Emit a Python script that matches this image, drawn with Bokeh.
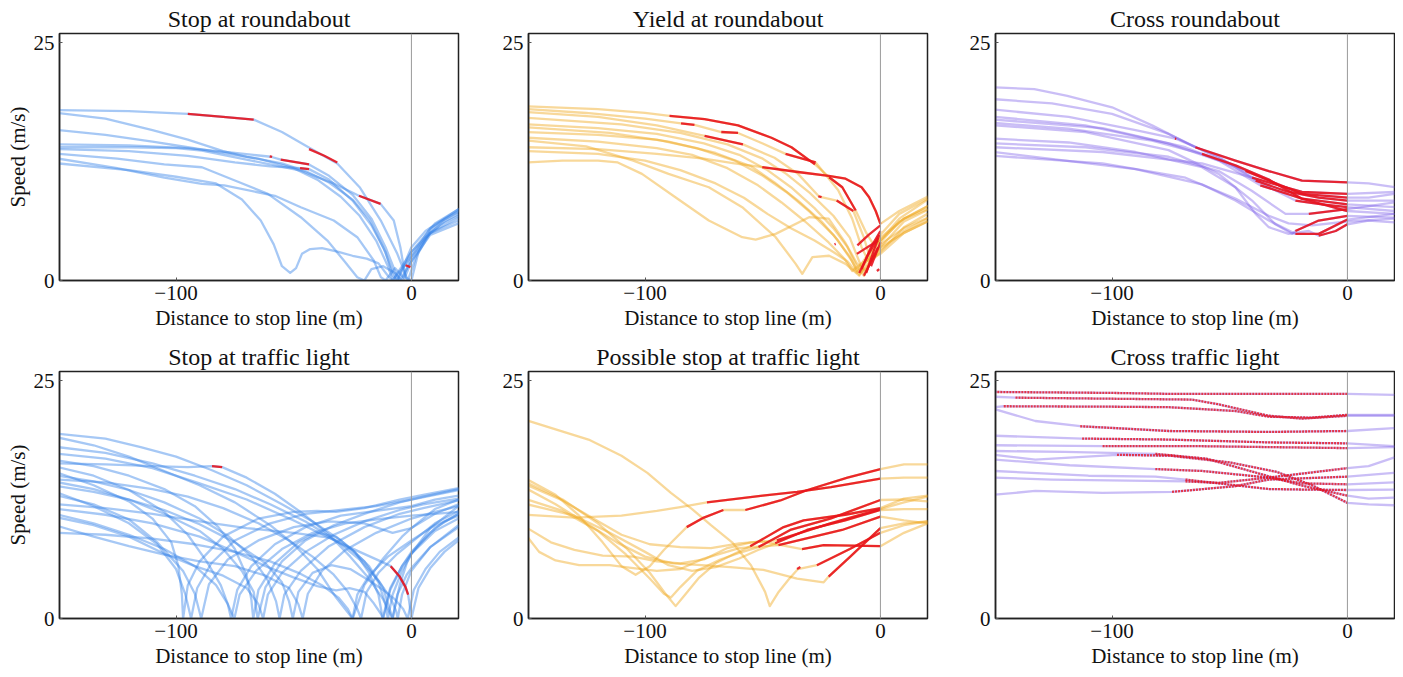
from bokeh.plotting import figure
from bokeh.layouts import column, row
from bokeh.models import FixedTicker, Span, Range1d
from bokeh.embed import file_html
from bokeh.resources import INLINE

FONT = "Liberation Serif"
BLUE = "#3a86e8"
YELLOW = "#f0a820"
PURPLE = "#7a5ce8"
RED = "#e8141e"

TITLES = ["Stop at roundabout", "Yield at roundabout", "Cross roundabout",
          "Stop at traffic light", "Possible stop at traffic light", "Cross traffic light"]
X_LABEL = "Distance to stop line (m)"
Y_LABEL = "Speed (m/s)"
X_TICKS = [-100, 0]
Y_TICKS = [0, 25]
X_TICK_TEXT = {-100: "\u2212100", 0: "0"}
Y_TICK_TEXT = {0: "0", 25: "25"}

# ---------------- Stop at roundabout ----------------
STOP_RB = [
    [(-150,17.9),(-120,17.8),(-95,17.5),(-80,17.2),(-67,16.9),(-55,15.6),(-43,13.9),(-31.5,12.3),(-22,9.8),(-13,6.3),(-6,2.8),(-1.5,0),(2,2.5),(8,5.0),(14,6.2),(20,7.0)],
    [(-150,17.6),(-130,17.0),(-110,15.8),(-95,14.8),(-80,13.6),(-70,13.0),(-55,12.3),(-45,11.5),(-35,10.3),(-25,8.5),(-18,6.5),(-12,3.5),(-8,1.0),(-6,0),(0,3.0),(10,6.0),(20,7.5)],
    [(-150,15.8),(-130,15.3),(-110,14.6),(-95,14.0),(-80,13.4),(-65,12.8),(-50,11.8),(-40,10.6),(-30,8.8),(-22,6.8),(-15,4.2),(-10,1.5),(-8,0),(0,2.5),(8,5.0),(20,6.6)],
    [(-150,14.3),(-120,14.2),(-95,13.9),(-75,13.4),(-59.7,13.0),(-55.5,12.7),(-43.5,12.2),(-35,11.0),(-25,9.0),(-17,6.5),(-11,3.5),(-7,1.0),(-5,0),(0,2.0),(6,4.5),(12,5.8),(20,6.8)],
    [(-150,14.0),(-120,14.0),(-100,13.9),(-89,13.65),(-68,12.6),(-47,11.55),(-33,10.2),(-22.3,8.9),(-13.1,8.05),(-7.5,6.3),(-4.7,3.5),(-2.5,0.3),(0,0),(3,3.0),(8,5.2),(14,6.5),(20,7.5)],
    [(-150,13.8),(-120,13.6),(-95,13.1),(-75,12.4),(-60,12.0),(-47.3,11.8),(-43.5,11.7),(-35,10.6),(-25,8.4),(-17,5.8),(-11,3.0),(-8,0.5),(-6,0),(0,3.5),(6,5.2),(12,6.2),(20,7.2)],
    [(-150,13.3),(-125,12.8),(-105,12.2),(-89,11.9),(-75,10.5),(-61,9.1),(-47,6.65),(-35.7,4.2),(-28.7,2.1),(-23,0.35),(-20,0),(-17,1.2),(-12,1.5),(-7,0.8),(-4,0),(0,2.5),(8,5.5),(20,7.3)],
    [(-150,12.8),(-125,11.8),(-105,10.8),(-89,10.15),(-79.5,10.0),(-58,8.9),(-47,7.7),(-33,6.3),(-23,4.55),(-16,2.1),(-13,0.35),(-11,0),(-7,1.3),(-3,0.2),(0,2.0),(8,4.8),(20,6.0)],
    [(-150,12.3),(-120,11.6),(-100,10.9),(-83,10.2),(-72,8.5),(-64,6.3),(-58.5,3.8),(-55,1.5),(-51.5,0.8),(-49,1.3),(-46.5,2.8),(-43,3.3),(-38,3.4),(-31,3.0),(-25,2.6),(-19,2.3),(-14,1.8),(-10,0.5),(-8,0),(-4,1.5),(0,3.0),(8,5.0),(20,6.3)],
]
STOP_RB_RED = [
    [(-95,17.5),(-80,17.2),(-67,16.9)],
    [(-43.5,13.8),(-37,13.1),(-31.5,12.4)],
    [(-60.2,13.05),(-59.2,12.98)],
    [(-55.5,12.7),(-43.5,12.2)],
    [(-47.3,11.8),(-43.5,11.7)],
    [(-22.3,8.9),(-13.1,8.05)],
    [(-2.5,1.6),(-0.4,1.4)],
]

# ---------------- Yield at roundabout ----------------
YIELD_RB = [
    [(-150,18.3),(-120,18.0),(-100,17.6),(-89.6,17.3),(-74.7,16.95),(-60.5,16.3),(-46.3,15.0),(-37.8,14.0),(-27.8,12.2),(-21.8,10.85),(-16.2,9.8),(-10.5,7.35),(-6,5.0),(-3,3.8),(0,4.2),(8,6.5),(20,8.5)],
    [(-150,18.0),(-125,17.6),(-100,17.0),(-84.7,16.5),(-79,16.35),(-67.6,15.6),(-60.5,15.5),(-50,14.4),(-40.3,13.3),(-27.5,12.4),(-18,9.5),(-12,6.5),(-8,3.5),(-5,2.0),(-2,3.5),(0,4.8),(8,7.0),(20,8.6)],
    [(-150,17.7),(-120,17.2),(-95,16.3),(-74.7,15.2),(-58.4,14.3),(-45,12.9),(-35,11.2),(-26,8.8),(-18.6,8.4),(-11.5,7.3),(-7,4.5),(-4,2.0),(-2,2.8),(0,4.0),(8,6.2),(20,7.8)],
    [(-150,17.1),(-110,16.4),(-85,15.5),(-65,14.3),(-50,12.8),(-40,11.2),(-30,9.2),(-20,6.8),(-13,4.5),(-9,2.0),(-7,0.8),(-4,2.2),(0,3.5),(10,6.2),(20,7.4)],
    [(-150,16.4),(-120,16.0),(-95,15.4),(-75,14.4),(-60,13.2),(-48,11.6),(-38,9.8),(-28,7.6),(-20,5.5),(-14,3.5),(-10,1.5),(-7,0.5),(-4,2.0),(0,3.0),(10,5.6),(20,7.0)],
    [(-150,16.1),(-115,15.5),(-90,14.6),(-70,13.4),(-55,12.0),(-45,10.3),(-35,8.4),(-25,6.2),(-18,4.2),(-12,2.0),(-9,0.6),(-5,1.8),(0,3.2),(10,5.2),(20,6.5)],
    [(-150,15.6),(-120,15.3),(-95,14.8),(-78,13.9),(-62,12.6),(-50,11.0),(-40,9.3),(-30,7.2),(-20,4.8),(-13,2.5),(-10,1.0),(-6,2.5),(0,4.2),(10,6.5),(20,7.8)],
    [(-150,15.0),(-120,14.6),(-95,13.9),(-80,13.2),(-65,11.8),(-52,10.0),(-42,8.2),(-32,6.2),(-22,4.0),(-15,2.2),(-12,1.0),(-8,1.8),(-2,2.8),(0,3.5),(10,5.0),(20,6.2)],
    [(-150,14.0),(-120,13.8),(-95,13.3),(-75,12.8),(-62,12.3),(-50.2,11.9),(-35,11.4),(-22,11.0),(-14.8,10.7),(-8,9.8),(-4.8,8.75),(-2,7.3),(0,5.95),(8,7.3),(20,8.8)],
    [(-150,13.6),(-120,13.3),(-100,12.6),(-85,11.6),(-70,10.2),(-58,8.7),(-48,7.0),(-38,5.5),(-28,4.2),(-20,3.0),(-14,2.0),(-10,0.8),(-6,2.0),(0,2.8),(10,5.0),(20,6.2)],
    [(-150,12.4),(-135,12.6),(-120,12.6),(-111.6,12.4),(-101.3,11.2),(-87.1,8.75),(-72.9,6.3),(-58.7,4.55),(-53,4.3),(-44.5,4.9),(-30.3,6.65),(-22,6.5),(-15,4.0),(-10,1.8),(-6,1.0),(-3,2.5),(0,3.8),(10,5.5),(20,6.6)],
    [(-150,14.7),(-125,14.1),(-105,12.6),(-90,11.2),(-72.9,9.8),(-58.7,7.7),(-44.5,4.55),(-36,1.75),(-33.2,0.7),(-28.9,2.45),(-21.8,2.6),(-14.8,1.75),(-9,0.5),(-5,2.5),(0,4.5),(10,6.5),(20,7.5)],
]
YIELD_RB_RED = [
    [(-89.6,17.3),(-74.7,16.95),(-60.5,16.3),(-46.3,15.0),(-37.8,14.0),(-27.8,12.2)],
    [(-21.8,10.85),(-16.2,9.8),(-10.5,7.35)],
    [(-84.7,16.5),(-79,16.35)],
    [(-67.6,15.6),(-60.5,15.5)],
    [(-40.3,13.3),(-27.5,12.4)],
    [(-74.7,15.2),(-58.4,14.3)],
    [(-26.4,8.85),(-25,8.75)],
    [(-18.6,8.4),(-11.5,7.3)],
    [(-50.2,11.9),(-35,11.4),(-22,11.0),(-14.8,10.7),(-8,9.8),(-4.8,8.75),(-2,7.3),(0,5.95)],
    [(-9.8,3.7),(-5,4.8),(0,5.8)],
    [(-9,0.8),(-5,2.8),(-1,4.5)],
    [(-8,1.2),(-4,3.5),(0,5.2)],
    [(-7,0.5),(-4,2.0),(-1,3.5)],
    [(-6,0.8),(-3,3.0),(-0.5,4.8)],
    [(-4,1.5),(0,4.0)],
    [(-10,2.8),(-1,4.2)],
    [(-1.5,1.0),(-0.5,1.2)],
    [(-19.5,3.8),(-19,3.85)],
]

# ---------------- Cross roundabout ----------------
CROSS_RB = [
    [(-150,20.3),(-133,20.1),(-119,19.4),(-100,18.2),(-83,16.3),(-64.6,14.0),(-47.6,12.6),(-33.4,11.5),(-19.3,10.5),(0,10.3),(9,10.2),(20,9.8)],
    [(-150,19.05),(-125.5,18.6),(-100,17.5),(-76,15.4),(-61.8,13.7),(-43.3,11.5),(-33.4,10.5),(-19.3,9.1),(0,8.7),(9,8.7),(20,9.1)],
    [(-150,17.95),(-118.4,17.2),(-90,15.8),(-73,14.9),(-54.7,13.0),(-39,10.5),(-26.3,9.4),(-12.2,8.7),(0,8.4),(20,8.4)],
    [(-150,17.2),(-111.3,16.3),(-76,14.4),(-54.7,12.6),(-37,10.0),(-19.3,8.6),(0,8.0),(20,7.7)],
    [(-150,16.9),(-104,16.0),(-68.8,14.0),(-47.6,11.9),(-33.4,9.8),(-22.1,8.4),(-10.8,8.0),(0,7.7),(20,7.3)],
    [(-150,16.55),(-118.4,15.95),(-83,14.7),(-61.8,13.3),(-47.6,12.1),(-33.4,10.6),(-19.3,8.6),(0,7.3),(20,7.0)],
    [(-150,16.3),(-111.3,15.6),(-76,13.7),(-54.7,11.2),(-40.5,8.4),(-30.6,5.9),(-23.5,4.9),(-22.1,5.2),(-12.2,6.3),(0,6.8),(20,6.6)],
    [(-150,14.9),(-118.4,14.5),(-90,13.5),(-61.8,11.9),(-47.6,9.8),(-39,7.0),(-33.4,5.6),(-25,4.9),(-16.4,5.2),(-12.2,4.7),(-5,5.2),(0,5.9),(9,6.3),(20,6.1)],
    [(-150,14.4),(-111.3,14.0),(-76,13.0),(-54.7,11.5),(-40.5,9.4),(-26.3,7.0),(-16.4,7.0),(0,7.5),(20,8.2)],
    [(-150,14.0),(-104,13.5),(-61.8,12.3),(-40.5,10.8),(-19.3,9.3),(0,9.1),(20,9.3)],
    [(-150,13.5),(-90,11.7),(-61.8,10.1),(-47.6,8.4),(-33.4,6.3),(-22.1,4.9),(-12.2,4.9),(0,6.4),(20,7.0)],
    [(-150,13.1),(-104,12.3),(-68.8,10.8),(-47.6,8.6),(-33.4,6.8),(-25,6.0),(-15,5.8),(0,6.2),(20,6.5)],
]
CROSS_RB_RED = [
    [(-64.6,14.0),(-47.6,12.6),(-33.4,11.5),(-19.3,10.5),(0,10.3)],
    [(-43.3,11.5),(-33.4,10.5),(-19.3,9.1),(0,8.7)],
    [(-39,10.5),(-26.3,9.4),(-12.2,8.7),(0,8.4)],
    [(-73.3,14.9),(-72.7,14.88)],
    [(-37,10.0),(-19.3,8.6),(0,8.0)],
    [(-22.1,8.4),(-10.8,8.0),(0,7.7)],
    [(-61.8,13.3),(-47.6,12.1),(-33.4,10.6),(-19.3,8.6),(0,7.3)],
    [(-22.1,5.2),(-12.2,6.3),(0,6.8)],
    [(-12.2,4.7),(-5,5.2),(0,5.9)],
    [(-16.4,7.0),(0,7.5)],
    [(-40.5,10.8),(-19.3,9.3),(0,9.1)],
    [(-22.1,4.9),(-12.2,4.9),(0,6.4)],
]

# ---------------- Stop at traffic light ----------------
STOP_TL = [
    [(-150,19.4),(-130,18.9),(-115,18.0),(-100,17.0),(-85,15.6),(-70,14.0),(-55,12.0),(-42,10.2),(-30,8.2),(-20,6.0),(-14,3.8),(-11,1.5),(-10,0),(-8,2.5),(-4,5.0),(0,6.8),(8,9.0),(14,10.2),(20,11.0)],
    [(-150,19.0),(-135,18.2),(-120,17.0),(-105,15.5),(-90,14.0),(-75,12.2),(-60,9.8),(-50,7.8),(-40,5.2),(-32,2.2),(-25,0),(-20,3.5),(-12,6.3),(-4,8.6),(0,9.5),(10,11.5),(20,12.5)],
    [(-150,16.3),(-130,16.2),(-110,16.0),(-95,15.9),(-84.7,16.0),(-80.4,15.9),(-70,14.8),(-58,13.1),(-46,11.0),(-35,8.8),(-26,6.5),(-18,4.2),(-12,2.0),(-8,0),(-5,3.5),(-2,5.8),(0,6.8),(8,9.5),(20,11.8)],
    [(-150,17.3),(-130,16.8),(-110,15.8),(-90,14.2),(-70,12.5),(-50,10.3),(-35,8.5),(-22,7.0),(-13,6.0),(-8.8,5.5),(-5,4.4),(-2.5,3.3),(-1.4,2.5),(-0.5,1.0),(0,0),(3,3.2),(8,5.3),(14,7.0),(20,8.2)],
    [(-150,15.3),(-135,14.0),(-120,12.3),(-110,10.5),(-102,8.0),(-99,5.5),(-97.5,2.5),(-97,0),(-95,3.5),(-90,6.0),(-80,8.6),(-65,10.5),(-50,11.2),(-40,11.3),(-32,11.2),(-20,11.6),(-5,12.5),(5,13.0),(20,13.7)],
    [(-150,13.2),(-135,11.8),(-120,10.0),(-108,7.8),(-100,5.2),(-96,2.5),(-93.6,0),(-91,3.2),(-85,5.8),(-75,8.2),(-60,10.0),(-45,11.0),(-30,11.4),(-15,11.8),(0,12.5),(10,13.0),(20,13.5)],
    [(-150,12.9),(-135,12.0),(-120,10.4),(-108,8.0),(-97,5.0),(-92,2.6),(-89.3,0),(-86,3.6),(-78,6.2),(-65,8.2),(-50,9.6),(-35,10.2),(-20,10.0),(-8,9.0),(0,9.5),(10,11.0),(20,12.0)],
    [(-150,15.9),(-135,15.0),(-120,13.5),(-105,11.2),(-95,8.8),(-87,6.0),(-81,3.5),(-78,1.5),(-76.6,0),(-74,3.0),(-68,5.5),(-58,7.8),(-45,9.6),(-30,10.8),(-15,11.3),(0,11.8),(10,12.5),(20,12.9)],
    [(-150,10.9),(-135,10.0),(-120,8.8),(-105,7.3),(-92,5.5),(-83,3.5),(-78,1.5),(-75.2,0),(-73,2.5),(-66,5.0),(-55,7.3),(-42,9.0),(-28,10.0),(-12,10.5),(0,10.8),(10,11.0),(20,11.2)],
    [(-150,16.6),(-135,16.0),(-120,15.0),(-105,13.6),(-92,11.8),(-82,9.6),(-75,7.3),(-70,4.5),(-68,2.0),(-67.2,0),(-65,3.0),(-58,5.8),(-48,8.0),(-40,9.0),(-32,8.6),(-24,7.0),(-18,4.8),(-14,2.5),(-12.2,0),(-9,3.2),(-4,5.5),(0,6.8),(10,9.2),(20,10.5)],
    [(-150,14.3),(-135,13.6),(-120,12.5),(-105,11.0),(-90,9.2),(-80,7.3),(-72,5.0),(-67,2.8),(-65.3,0),(-62,3.3),(-55,6.0),(-45,8.2),(-33,9.8),(-20,11.0),(-5,12.2),(5,12.8),(20,13.6)],
    [(-150,10.6),(-135,9.8),(-120,8.6),(-105,6.8),(-92,5.5),(-80,4.5),(-70,3.2),(-65,1.5),(-63,0),(-61,2.5),(-55,4.8),(-45,7.0),(-33,8.8),(-20,10.2),(-5,11.4),(5,12.0),(20,12.6)],
    [(-150,15.0),(-135,14.4),(-120,13.5),(-105,12.2),(-90,10.5),(-78,8.7),(-68,6.5),(-61,4.0),(-57.5,1.8),(-56,0),(-54,2.5),(-47,5.0),(-35,7.6),(-20,9.6),(-5,11.0),(5,11.6),(20,12.4)],
    [(-150,13.9),(-135,13.3),(-120,12.5),(-105,11.4),(-90,9.9),(-75,8.0),(-62,5.8),(-55,3.8),(-52,1.8),(-50.4,0),(-48,2.8),(-42,4.8),(-34,5.6),(-26,5.2),(-18,4.0),(-12,3.0),(-7,2.0),(-3.5,1.0),(-1.6,0),(1,3.0),(6,5.2),(12,7.0),(20,8.5)],
    [(-150,9.7),(-135,8.6),(-120,7.6),(-105,6.7),(-90,6.0),(-75,5.5),(-62,4.5),(-52,3.2),(-48,1.5),(-46.2,0),(-44,2.6),(-38,5.0),(-28,7.2),(-15,9.0),(0,10.5),(10,11.2),(20,11.8)],
    [(-150,9.0),(-130,8.8),(-110,8.4),(-92,7.8),(-75,7.0),(-60,6.0),(-48,4.8),(-38,3.5),(-31,2.2),(-27,1.0),(-25,0),(-23,2.5),(-18,4.5),(-10,6.5),(0,8.2),(10,9.8),(20,10.8)],
    [(-150,11.5),(-130,10.9),(-110,10.0),(-90,8.6),(-75,7.0),(-62,5.5),(-50.4,4.35),(-40,3.4),(-32,2.95),(-26.3,3.2),(-20,2.8),(-16,1.6),(-13,0.5),(-12,0),(-9,3.0),(-4,5.5),(0,7.0),(10,9.5),(20,11.0)],
    [(-150,14.6),(-130,14.3),(-110,13.6),(-95,12.8),(-80,11.6),(-65,10.0),(-52,8.2),(-42,6.5),(-33,4.6),(-27,2.8),(-23,1.0),(-21.4,0),(-19,2.8),(-14,4.8),(-6,6.8),(0,8.0),(10,10.0),(20,11.3)],
    [(-150,12.0),(-130,11.6),(-110,11.0),(-90,10.2),(-70,9.5),(-50,9.0),(-35,8.5),(-25,7.2),(-18,5.5),(-12,3.2),(-9.5,1.2),(-8,0),(-6,2.5),(-2,4.6),(0,5.3),(8,7.5),(20,9.8)],
    [(-150,18.0),(-130,17.4),(-110,16.3),(-92,15.0),(-75,13.6),(-60,12.0),(-45,10.2),(-32,8.2),(-22,6.2),(-14,4.0),(-9,2.2),(-6.5,0.8),(-5.8,0),(-4,2.5),(-1,4.4),(0,5.0),(8,7.5),(20,9.6)],
]
STOP_TL_RED = [
    [(-84.7,16.0),(-80.4,15.9)],
    [(-8.8,5.5),(-5,4.4),(-2.5,3.3),(-1.4,2.5)],
]

# ---------------- Possible stop at traffic light ----------------
POSS_TL = [
    [(-150,20.8),(-124,18.8),(-110,17.1),(-99,15.3),(-89,13.2),(-80,11.5),(-72,9.8),(-63,8.0),(-55,5.6),(-49,2.8),(-47,1.3),(-43.5,2.7),(-39,4.1),(-35,5.2),(-27,5.6),(-13,7.3),(0,9.0),(10,9.8),(20,10.2)],
    [(-150,10.9),(-130,10.6),(-110,10.8),(-95,11.3),(-85,11.7),(-73.7,12.2),(-50,12.9),(-35.4,13.3),(-21,13.8),(0,14.7),(10,14.8),(20,14.8)],
    [(-150,14.6),(-138,13.0),(-128,10.8),(-118,8.0),(-110,5.5),(-104,4.6),(-98,5.5),(-92,7.2),(-82.3,9.6),(-75,10.6),(-66.7,11.4),(-57.4,11.4),(-42.5,12.4),(-31,13.5),(-14,14.8),(0,15.7),(10,16.2),(20,16.2)],
    [(-150,14.25),(-135,12.5),(-120,10.0),(-108,7.4),(-98,4.8),(-91,2.5),(-87,1.3),(-83,2.5),(-77,4.3),(-70,5.8),(-62,6.8),(-55.3,7.6),(-41.1,9.6),(-32.6,10.3),(-15,10.9),(0,11.6),(10,12.6),(20,12.9)],
    [(-150,12.5),(-135,11.3),(-120,9.2),(-108,6.7),(-98,4.2),(-92,2.6),(-89,2.2),(-85,3.3),(-78,5.0),(-68,6.2),(-60,6.9),(-51.8,7.5),(-38.3,9.3),(-21.3,10.5),(0,12.45),(10,12.5),(20,12.3)],
    [(-150,12.0),(-130,10.8),(-115,9.0),(-100,7.0),(-90,5.6),(-80,5.0),(-70,5.4),(-60,6.3),(-52,7.2),(-44.7,7.9),(-31.2,9.3),(-15,10.3),(0,11.4),(10,11.5),(20,11.5)],
    [(-150,9.5),(-140,8.0),(-130,7.2),(-118,6.6),(-105,6.5),(-95,6.0),(-85,5.8),(-75,6.2),(-65,7.4),(-55,8.0),(-44,8.2),(-21.3,10.0),(0,11.5),(10,12.2),(20,12.8)],
    [(-150,8.6),(-145,7.0),(-138,6.1),(-128,5.6),(-115,5.6),(-105,5.3),(-95,5.0),(-85,5.2),(-75,6.3),(-60,7.4),(-43.3,7.7),(-16.3,9.3),(0,10.7),(10,10.3),(20,10.0)],
    [(-150,14.0),(-135,12.4),(-122,10.5),(-110,8.8),(-98,7.8),(-85,7.5),(-72,7.4),(-60,7.9),(-50,8.1),(-40,7.6),(-33.3,7.3),(-24.1,7.7),(0,7.6),(10,9.0),(20,10.0)],
    [(-150,13.6),(-138,12.0),(-125,10.0),(-112,8.0),(-100,6.5),(-88,5.8),(-76,5.6),(-63.8,5.4),(-49.7,5.1),(-35.4,4.2),(-24.1,3.8),(-22,4.4),(-12.8,6.5),(0,9.5),(10,10.0),(20,10.2)],
]
POSS_TL_RED = [
    [(-35.4,5.2),(-34,5.4)],
    [(-27,5.6),(-13,7.3),(0,9.0)],
    [(-73.7,12.2),(-50,12.9),(-35.4,13.3),(-21,13.8),(0,14.7)],
    [(-82.3,9.6),(-75,10.6),(-66.7,11.4)],
    [(-57.4,11.4),(-42.5,12.4),(-31,13.5),(-14,14.8),(0,15.7)],
    [(-55.3,7.6),(-41.1,9.6),(-32.6,10.3),(-15,10.9),(0,11.6)],
    [(-51.8,7.5),(-38.3,9.3),(-21.3,10.5),(0,12.45)],
    [(-44.7,7.9),(-31.2,9.3),(-15,10.3),(0,11.4)],
    [(-44,8.2),(-21.3,10.0),(0,11.5)],
    [(-43.3,7.7),(-16.3,9.3),(0,10.7)],
    [(-33.3,7.3),(-24.1,7.7),(0,7.6)],
    [(-22,4.4),(-12.8,6.5),(0,9.5)],
]

# ---------------- Cross traffic light ----------------
CROSS_TL = [
    [(-150,23.8),(-100,23.7),(-75.9,23.6),(-50,23.6),(-33.4,23.6),(0,23.6),(19.7,23.5)],
    [(-150,23.3),(-141,23.2),(-104,23.1),(-66,23.0),(-54.7,22.5),(-33.4,21.3),(-19.3,21.0),(0,21.3),(19.7,21.3)],
    [(-150,22.2),(-146,22.3),(-100,22.25),(-75.9,22.2),(-47.6,21.8),(-33.4,21.2),(-15,21.1),(0,21.4),(19.7,21.4)],
    [(-150,22.0),(-132.6,20.75),(-113.5,20.2),(-75.9,19.7),(-33.4,19.6),(0,19.7),(19.7,20.0)],
    [(-150,19.2),(-112.7,18.9),(-75.9,18.8),(-33.4,18.5),(0,18.4),(19.7,18.1)],
    [(-150,18.2),(-104,18.1),(-61.8,18.1),(0,17.9),(19.7,18.0)],
    [(-150,17.2),(-132.6,16.7),(-97.9,17.2),(-75,17.1),(-50,16.4),(-30,15.4),(-15,14.0),(0,12.15),(9,12.0),(19.7,11.9)],
    [(-150,16.7),(-118,16.1),(-81.6,15.7),(-61.8,15.5),(-33.4,14.8),(-19.3,14.2),(0,14.1),(19.7,14.3)],
    [(-150,14.8),(-125.5,14.6),(-68.8,14.4),(-54.7,14.25),(-33.4,14.8),(0,15.8),(9,16.0),(19.7,16.9)],
    [(-150,13.0),(-132.6,13.4),(-104,13.2),(-74.5,13.3),(-47.6,13.9),(-33.4,14.6),(0,14.9),(19.7,15.3)],
    [(-150,15.5),(-110,15.0),(-81.6,14.9),(-68.8,14.6),(-33.4,13.6),(-19.3,13.55),(0,13.5),(19.7,13.55)],
    [(-150,17.6),(-120,17.5),(-81.6,17.3),(-60,16.8),(-40,15.4),(-20,14.0),(0,12.9),(9,12.6),(19.7,12.7)],
]
CROSS_TL_RED = [
    [(-150,23.8),(-100,23.7),(-75.9,23.6),(-50,23.6),(-33.4,23.6),(0,23.6)],
    [(-141,23.2),(-104,23.1),(-66,23.0),(-54.7,22.5),(-33.4,21.3),(-19.3,21.0),(0,21.3)],
    [(-146,22.3),(-100,22.25),(-75.9,22.2),(-47.6,21.8),(-33.4,21.2),(-15,21.1),(0,21.4)],
    [(-113.5,20.2),(-75.9,19.7),(-33.4,19.6),(0,19.7)],
    [(-112.7,18.9),(-75.9,18.8),(-33.4,18.5),(0,18.4)],
    [(-104,18.1),(-61.8,18.1),(0,17.9)],
    [(-97.9,17.2),(-75,17.1),(-50,16.4),(-30,15.4),(-15,14.0),(0,12.15)],
    [(-81.6,15.7),(-61.8,15.5),(-33.4,14.8),(-19.3,14.2),(0,14.1)],
    [(-68.8,14.4),(-54.7,14.25),(-33.4,14.8),(0,15.8)],
    [(-74.5,13.3),(-47.6,13.9),(-33.4,14.6),(0,14.9)],
    [(-68.8,14.6),(-33.4,13.6),(-19.3,13.55),(0,13.5)],
    [(-81.6,17.3),(-60,16.8),(-40,15.4),(-20,14.0),(0,12.9)],
]


def split(lines):
    return [[p[0] for p in ln] for ln in lines], [[p[1] for p in ln] for ln in lines]


def panel(title, lines, reds, color, alpha, ylabel, lb, rb, bb, red_dash="solid", red_alpha=0.9):
    p = figure(title=title, frame_width=399, frame_height=247,
               x_range=Range1d(-149.5, 20), y_range=Range1d(0, 25.95),
               toolbar_location=None, output_backend="svg",
               min_border_left=lb, min_border_right=rb,
               min_border_top=33, min_border_bottom=bb)
    p.grid.visible = False
    p.background_fill_color = "white"
    p.border_fill_color = "white"
    p.outline_line_color = "#222222"
    p.outline_line_width = 1.5
    p.outline_line_alpha = 1.0
    p.title.align = "center"
    p.title.text_font = FONT
    p.title.text_font_size = "24px"
    p.title.text_font_style = "normal"
    p.title.text_color = "#111111"
    if "standoff" in p.title.properties():
        p.title.standoff = 3
    p.add_layout(Span(location=0, dimension="height", line_color="#999999", line_width=1))
    xs, ys = split(lines)
    p.multi_line(xs, ys, line_color=color, line_alpha=alpha, line_width=2.3,
                 line_join="round", line_cap="round")
    rx, ry = split(reds)
    p.multi_line(rx, ry, line_color=RED, line_alpha=red_alpha, line_width=2.3,
                 line_dash=red_dash, line_join="round")
    for ax in (p.xaxis[0], p.yaxis[0]):
        ax.axis_line_color = "#222222"
        ax.axis_line_width = 1.5
        ax.major_tick_in = 3
        ax.major_tick_out = 0
        ax.minor_tick_line_color = None
        ax.major_tick_line_color = "#555555"
        ax.major_label_text_font = FONT
        ax.major_label_text_font_size = "21px"
        ax.major_label_text_color = "#111111"
        ax.axis_label_text_font = FONT
        ax.axis_label_text_font_size = "21px"
        ax.axis_label_text_font_style = "normal"
        ax.axis_label_text_color = "#111111"
    p.xaxis.ticker = FixedTicker(ticks=X_TICKS)
    p.yaxis.ticker = FixedTicker(ticks=Y_TICKS)
    p.xaxis.major_label_overrides = X_TICK_TEXT
    p.yaxis.major_label_overrides = Y_TICK_TEXT
    p.xaxis.major_label_standoff = 5
    p.yaxis.major_label_standoff = 5
    p.xaxis.axis_label = X_LABEL
    p.xaxis.axis_label_standoff = 3
    if ylabel:
        p.yaxis.axis_label = Y_LABEL
        p.yaxis.axis_label_standoff = 1
    return p


f1 = panel(TITLES[0], STOP_RB, STOP_RB_RED, BLUE, 0.45, True, 59, 10, 58)
f2 = panel(TITLES[1], YIELD_RB, YIELD_RB_RED, YELLOW, 0.45, False, 60, 10, 58)
f3 = panel(TITLES[2], CROSS_RB, CROSS_RB_RED, PURPLE, 0.4, False, 58, 1, 58)
f4 = panel(TITLES[3], STOP_TL, STOP_TL_RED, BLUE, 0.45, True, 59, 10, 58)
f5 = panel(TITLES[4], POSS_TL, POSS_TL_RED, YELLOW, 0.45, False, 60, 10, 58)
f6 = panel(TITLES[5], CROSS_TL, CROSS_TL_RED, PURPLE, 0.4, False, 58, 1, 58, red_dash="2 1", red_alpha=0.8)

layout = column(row(f1, f2, f3), row(f4, f5, f6))
open("out.html", "w").write(file_html(layout, INLINE))
